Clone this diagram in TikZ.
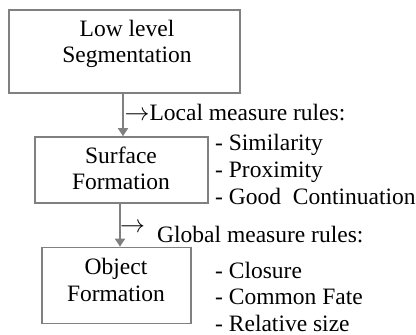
\documentclass[tikz,border=0pt]{standalone}
\usepackage{fontspec}
\setmainfont{Liberation Serif}
\usetikzlibrary{arrows.meta}
\definecolor{boxgray}{HTML}{808080}
\tikzset{
  box/.style={draw=boxgray, line width=1.6pt, inner sep=0pt},
  txt/.style={font=\fontsize{23.5}{26.5}\selectfont, inner sep=0pt, text=black},
  ctxt/.style={txt, align=center, anchor=base},
  item/.style={txt, anchor=base west},
  conn/.style={draw=boxgray, line width=1.6pt, -{Triangle[width=10pt,length=8pt]}},
}
\begin{document}
\begin{tikzpicture}[x=1pt,y=-1pt]
\useasboundingbox (0,0) rectangle (416,335);
% boxes
\node[box, minimum width=231pt, minimum height=83pt] (b1) at (124.5,51.5) {};
\node[box, minimum width=173pt, minimum height=66pt] (b2) at (121.5,170) {};
\node[box, minimum width=149pt, minimum height=76pt] (b3) at (116.5,285.5) {};
% box texts (anchor base = baseline of last line)
\node[ctxt] (t1) at (127,62.5) {Low level\\Segmentation};
\node[ctxt] (t2) at (121,189.5) {Surface\\Formation};
\node[ctxt] (t3) at (116,301) {Object\\Formation};
% connectors
\coordinate (c1) at (123,0);
\coordinate (c2) at (120,0);
\draw[conn] (b1.south -| c1) -- (b2.north -| c1);
\draw[conn] (b2.south -| c2) -- (b3.north -| c2);
% rule headings
\node[item] (h1) at (124.5,120) {$\rightarrow$Local measure rules:};
\node[item] (a2) at (120,232) {$\rightarrow$};
\node[item] (h2) at (157,242) {Global measure rules:};
% lists
\node[item] (l1) at (215,150) {- Similarity};
\node[item] (l2) at (215,177) {- Proximity};
\node[item] (l3) at (215,204.5) {- Good\ \ Continuation};
\node[item] (m1) at (215,278) {- Closure};
\node[item] (m2) at (215,304.5) {- Common Fate};
\node[item] (m3) at (215,331) {- Relative size};
\end{tikzpicture}
\end{document}
